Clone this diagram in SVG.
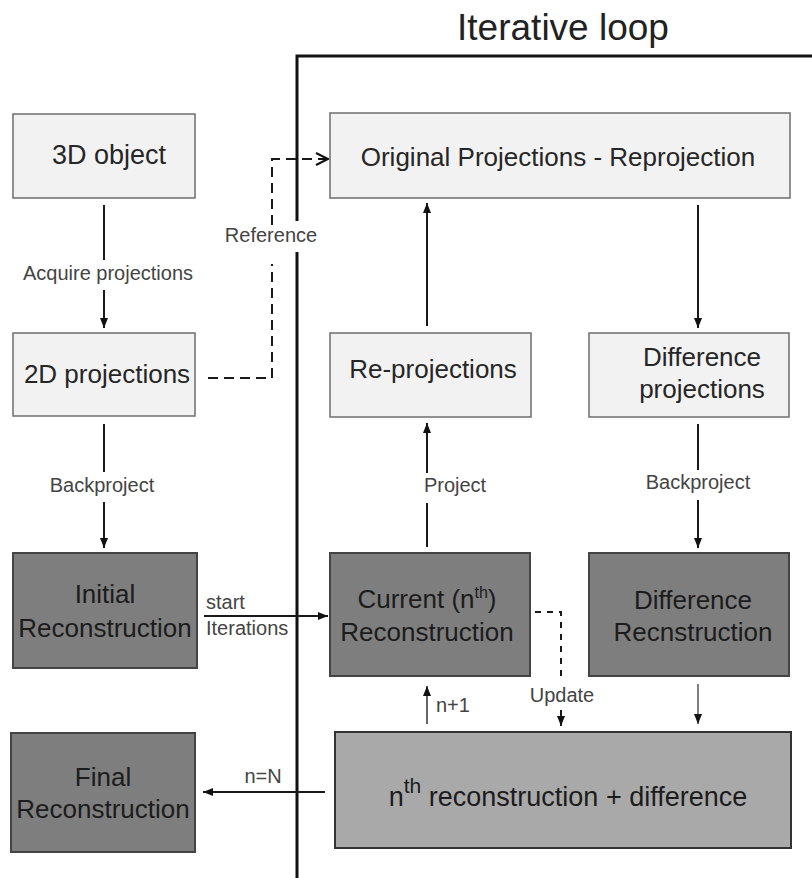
<svg xmlns="http://www.w3.org/2000/svg" width="812" height="878" viewBox="0 0 812 878">
<style>
.light{fill:#f2f2f2;stroke:#6e6e6e;stroke-width:1.5}
.dark{fill:#7e7e7e;stroke:#444;stroke-width:2}
.mid{fill:#a9a9a9;stroke:#333;stroke-width:2}
.t{font-family:"Liberation Sans",Arial,sans-serif;font-size:26px;fill:#1c1c1c;text-anchor:middle}
.tl{font-family:"Liberation Sans",Arial,sans-serif;font-size:26px;fill:#262626;text-anchor:middle}
.lbl{font-family:"Liberation Sans",Arial,sans-serif;font-size:20px;fill:#444;text-anchor:middle}
.lbs{font-family:"Liberation Sans",Arial,sans-serif;font-size:20px;fill:#444;text-anchor:start}
.ln{stroke:#1a1a1a;stroke-width:2;fill:none}
.dash{stroke:#1a1a1a;stroke-width:2;fill:none;stroke-dasharray:10 6}
.dot{stroke:#1a1a1a;stroke-width:2;fill:none;stroke-dasharray:6 6}
.frame{stroke:#111;stroke-width:3;fill:none}
</style>
<defs>
<marker id="ah" viewBox="0 0 10 10" refX="10" refY="5" markerWidth="10" markerHeight="10" markerUnits="userSpaceOnUse" orient="auto">
<path d="M0,1 L10,5 L0,9 Z" fill="#111"/>
</marker>
</defs>
<rect width="812" height="878" fill="#fff"/>

<g id="loop">
<text x="563" y="40" font-family="'Liberation Sans',Arial,sans-serif" font-size="37" fill="#222" text-anchor="middle">Iterative loop</text>
<path class="frame" d="M297,878 V252 M297,221 V56 H812"/>
</g>

<g id="connectors">
<path class="ln" d="M104,205 V260"/>
<path class="ln" d="M104,290 V328" marker-end="url(#ah)"/>
<text class="lbl" x="108" y="280">Acquire projections</text>

<path class="dash" d="M208,378 H272 V264"/>
<path class="dash" d="M272,225 V159 H322"/>
<path d="M316,153 L328,159 L316,165 M318,159 H328" fill="none" stroke="#111" stroke-width="2"/>
<text class="lbl" x="271" y="242">Reference</text>

<path class="ln" d="M104,424 V472"/>
<path class="ln" d="M104,502 V548" marker-end="url(#ah)"/>
<text class="lbl" x="102" y="492">Backproject</text>

<path class="ln" d="M427,547 V503"/>
<path class="ln" d="M427,473 V423" marker-end="url(#ah)"/>
<text class="lbl" x="455" y="492">Project</text>

<path class="ln" d="M427,326 V203" marker-end="url(#ah)"/>
<path class="ln" d="M698,205 V328" marker-end="url(#ah)"/>

<path class="ln" d="M698,424 V470"/>
<path class="ln" d="M698,500 V548" marker-end="url(#ah)"/>
<text class="lbl" x="698" y="489">Backproject</text>

<path class="ln" d="M204,616 H328" marker-end="url(#ah)"/>
<text class="lbs" x="206" y="609">start</text>
<text class="lbs" x="206" y="635">Iterations</text>

<path class="dot" d="M535,612 H561 V679"/>
<path class="ln" d="M561,710 V726" marker-end="url(#ah)"/>
<text class="lbl" x="562" y="702">Update</text>

<path stroke="#555" stroke-width="1.5" fill="none" d="M698,684 V724" marker-end="url(#ah)"/>

<path stroke="#333" stroke-width="1.5" fill="none" d="M427,724 V686" marker-end="url(#ah)"/>
<text class="lbs" x="436" y="712">n+1</text>

<path class="ln" d="M325,792 H203" marker-end="url(#ah)"/>
<text class="lbl" x="263" y="783">n=N</text>
</g>

<g id="n3d">
<rect class="light" x="13" y="114" width="182" height="84"/>
<text class="tl" x="109" y="164" font-size="27" style="font-size:27px">3D object</text>
</g>
<g id="n2d">
<rect class="light" x="13" y="333" width="182" height="83"/>
<text class="tl" x="107" y="383">2D projections</text>
</g>
<g id="norig">
<rect class="light" x="330" y="113" width="460" height="85"/>
<text class="tl" x="558" y="166">Original Projections - Reprojection</text>
</g>
<g id="nrep">
<rect class="light" x="330" y="333" width="201" height="84"/>
<text class="tl" x="433" y="378">Re-projections</text>
</g>
<g id="ndiffp">
<rect class="light" x="589" y="333" width="200" height="84"/>
<text class="tl" x="702" y="366">Difference</text>
<text class="tl" x="702" y="398">projections</text>
</g>
<g id="ninit">
<rect class="dark" x="13" y="553" width="184" height="115"/>
<text class="t" x="105" y="603">Initial</text>
<text class="t" x="105" y="637">Reconstruction</text>
</g>
<g id="ncur">
<rect class="dark" x="330" y="553" width="200" height="123"/>
<text class="t" x="427" y="608">Current (n<tspan style="font-size:16px" dy="-10">th</tspan><tspan dy="10">)</tspan></text>
<text class="t" x="427" y="641">Reconstruction</text>
</g>
<g id="ndiffr">
<rect class="dark" x="589" y="553" width="200" height="123"/>
<text class="t" x="693" y="609">Difference</text>
<text class="t" x="693" y="641">Recnstruction</text>
</g>
<g id="nfinal">
<rect class="dark" x="11" y="733" width="184" height="119"/>
<text class="t" x="103" y="786">Final</text>
<text class="t" x="103" y="818">Reconstruction</text>
</g>
<g id="nsum">
<rect class="mid" x="335" y="732" width="456" height="116"/>
<text class="t" x="568" y="806" style="font-size:27px">n<tspan style="font-size:21px" dy="-13">th</tspan><tspan dy="13"> reconstruction + difference</tspan></text>
</g>
</svg>
